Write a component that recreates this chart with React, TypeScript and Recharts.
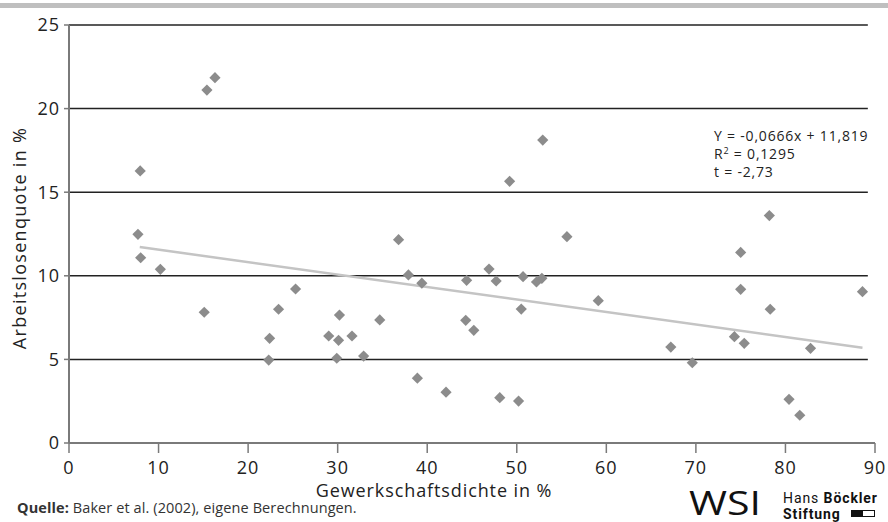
import React from "react";
import { ScatterChart, Scatter, XAxis, YAxis, ReferenceLine } from "recharts";

// Data
const unionDensity = [
  7.7, 8.0, 7.95, 10.2, 15.1, 15.4, 16.3, 22.4, 22.3, 23.4, 25.3, 29.0, 29.9, 30.1, 30.2, 31.6, 32.9, 34.7,
  36.8, 37.9, 39.4, 38.9, 42.1, 44.4, 44.3, 45.2, 46.9, 47.7, 48.1, 49.2, 50.2, 50.7, 50.5, 52.2, 52.8, 52.9,
  55.6, 59.1, 67.2, 69.6, 74.3, 75.0, 75.0, 75.4, 78.2, 78.3, 80.4, 81.6, 82.8, 88.6,
];
const unemploymentRate = [
  12.48, 11.08, 16.27, 10.39, 7.82, 21.11, 21.85, 6.26, 4.96, 8.0, 9.21, 6.4, 5.07, 6.14, 7.65, 6.4, 5.2, 7.36,
  12.16, 10.05, 9.56, 3.88, 3.04, 9.73, 7.34, 6.74, 10.4, 9.69, 2.71, 15.65, 2.51, 9.95, 8.01, 9.63, 9.85, 18.12,
  12.34, 8.51, 5.74, 4.8, 6.36, 11.4, 9.19, 5.96, 13.6, 8.0, 2.61, 1.66, 5.66, 9.05,
];
const trendX = [7.9, 88.6];
const trendY = [11.72, 5.7];
const xTicks = [0, 10, 20, 30, 40, 50, 60, 70, 80, 90];
const yTicks = [0, 5, 10, 15, 20, 25];
const gridValues = [5, 10, 15, 20, 25];
const gridEndX = 89.2;

const equationLines = ["Y = -0,0666x + 11,819", "R2 = 0,1295", "t = -2,73"];
const xTitle = "Gewerkschaftsdichte in %";
const yTitle = "Arbeitslosenquote in %";
const sourceLabel = "Quelle:";
const sourceText = " Baker et al. (2002), eigene Berechnungen.";

const points = unionDensity.map((x, i) => ({ x, y: unemploymentRate[i] }));
const trend = trendX.map((x, i) => ({ x, y: trendY[i] }));

const FONT = "'Open Sans', 'DejaVu Sans', sans-serif";
const TEXT = "#222";
const TICK_STYLE = { fill: TEXT, fontSize: 18, fontFamily: FONT, letterSpacing: 1 };

const Diamond = (props: any) => {
  const { cx, cy } = props;
  if (cx == null || cy == null) return <g />;
  const r = 5.6;
  return (
    <polygon
      points={`${cx},${cy - r} ${cx + r},${cy} ${cx},${cy + r} ${cx - r},${cy}`}
      fill="#8c8c8c"
    />
  );
};

export default function App() {
  return (
    <div style={{ position: "absolute", left: 0, top: 0, width: 888, height: 522, background: "#fff", fontFamily: FONT }}>
      <div style={{ position: "absolute", left: 0, top: 3, width: 888, height: 5, background: "#bfbfbf" }} />
      <ScatterChart width={888} height={522} margin={{ top: 25, right: 13, bottom: 0, left: 0 }}>
        <XAxis
          type="number"
          dataKey="x"
          domain={[0, 90]}
          ticks={xTicks}
          height={79}
          tickSize={10}
          tickMargin={8}
          axisLine={{ stroke: "#7a7a7a", strokeWidth: 2 }}
          tickLine={{ stroke: "#7a7a7a", strokeWidth: 1.5 }}
          tick={TICK_STYLE}
          interval={0}
          allowDataOverflow
        />
        <YAxis
          type="number"
          dataKey="y"
          domain={[0, 25]}
          ticks={yTicks}
          width={69}
          tickSize={5}
          tickMargin={4}
          axisLine={{ stroke: "#7a7a7a", strokeWidth: 2 }}
          tickLine={{ stroke: "#7a7a7a", strokeWidth: 1.5 }}
          tick={TICK_STYLE}
          interval={0}
          allowDataOverflow
        />
        {gridValues.map((v) => (
          <ReferenceLine
            key={v}
            segment={[
              { x: 0, y: v },
              { x: gridEndX, y: v },
            ]}
            stroke="#222"
            strokeWidth={1.5}
            ifOverflow="visible"
          />
        ))}
        <Scatter
          data={trend}
          line={{ stroke: "#c4c4c4", strokeWidth: 2.5 }}
          shape={() => <g />}
          isAnimationActive={false}
          legendType="none"
        />
        <Scatter data={points} shape={Diamond} isAnimationActive={false} />
      </ScatterChart>

      {/* Y axis title */}
      <div
        style={{
          position: "absolute",
          left: 19,
          top: 238,
          transform: "translate(-50%, -50%) rotate(-90deg)",
          whiteSpace: "nowrap",
          fontSize: 18,
          letterSpacing: 1.3,
          lineHeight: "20px",
          color: TEXT,
        }}
      >
        {yTitle}
      </div>

      {/* X axis title */}
      <div
        style={{
          position: "absolute",
          left: 434,
          top: 481,
          transform: "translateX(-50%)",
          whiteSpace: "nowrap",
          fontSize: 18,
          letterSpacing: 0.9,
          lineHeight: "18px",
          color: TEXT,
        }}
      >
        {xTitle}
      </div>

      {/* Regression info */}
      <div
        style={{
          position: "absolute",
          left: 714,
          top: 127,
          fontSize: 14,
          letterSpacing: 0.8,
          lineHeight: "18px",
          color: TEXT,
          whiteSpace: "nowrap",
        }}
      >
        <div>{equationLines[0]}</div>
        <div>
          R<sup style={{ fontSize: 9, lineHeight: 0, verticalAlign: "5px" }}>2</sup>
          {equationLines[1].slice(2)}
        </div>
        <div>{equationLines[2]}</div>
      </div>

      {/* Source */}
      <div
        style={{
          position: "absolute",
          left: 17,
          top: 499,
          fontSize: 14.5,
          letterSpacing: 0.1,
          lineHeight: "18px",
          color: "#333",
          whiteSpace: "nowrap",
        }}
      >
        <b>{sourceLabel}</b>
        {sourceText}
      </div>

      {/* Logo */}
      <svg style={{ position: "absolute", left: 686, top: 476, overflow: "visible" }} width={80} height={46}>
        <text
          x={3}
          y={39}
          fontSize={33}
          fontFamily="'Open Sans', sans-serif"
          fontWeight={400}
          fill="#111"
          textLength={72}
          lengthAdjust="spacingAndGlyphs"
        >
          WSI
        </text>
      </svg>
      <div
        style={{
          position: "absolute",
          left: 783,
          top: 490,
          fontSize: 14,
          lineHeight: "16px",
          letterSpacing: 0.9,
          color: "#111",
          fontFamily: "Roboto, sans-serif",
          whiteSpace: "nowrap",
        }}
      >
        <div>
          Hans <b>Böckler</b>
        </div>
        <div style={{ display: "flex", alignItems: "center", height: 15 }}>
          <b>Stiftung</b>
          <span style={{ display: "inline-block", marginLeft: 10, width: 12, height: 7, background: "#111" }} />
          <span
            style={{
              display: "inline-block",
              width: 11,
              height: 5,
              border: "1px solid #111",
              borderLeft: "none",
            }}
          />
        </div>
      </div>
    </div>
  );
}
